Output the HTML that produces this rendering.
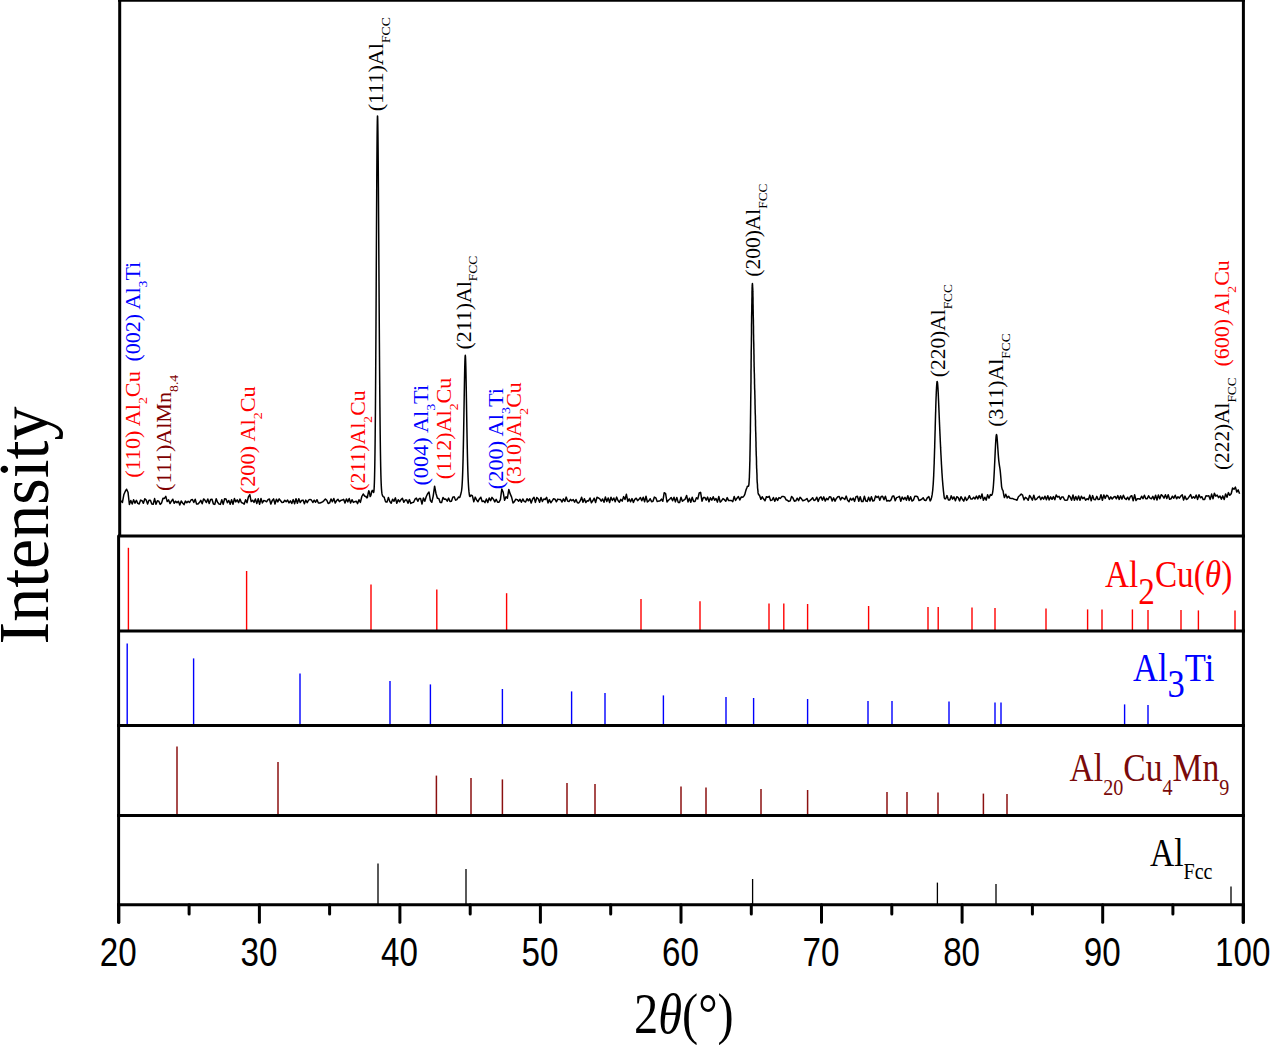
<!DOCTYPE html>
<html><head><meta charset="utf-8"><style>
html,body{margin:0;padding:0;background:#fff;}
svg{display:block;}
.tl{font-family:"Liberation Sans",sans-serif;font-size:41px;fill:#000;}
.lab{font-family:"Liberation Serif",serif;font-size:21.7px;}
.ser{font-family:"Liberation Serif",serif;}
</style></head><body>
<svg width="1270" height="1045" viewBox="0 0 1270 1045">
<rect width="1270" height="1045" fill="#fff"/>
<path d="M121.0,500.7 L122.4,502.5 L123.8,494.8 L125.2,491.5 L126.6,489.2 L128.0,492.2 L129.4,504.5 L130.8,500.5 L132.2,504.0 L133.6,499.7 L135.0,503.1 L136.4,500.3 L137.8,503.4 L139.2,504.0 L140.6,500.1 L142.0,500.7 L143.4,503.3 L144.8,498.7 L146.2,500.0 L147.6,504.0 L149.0,500.3 L150.4,500.3 L151.8,504.0 L153.2,504.3 L154.6,498.6 L156.0,504.2 L157.4,500.8 L158.8,501.2 L160.2,504.4 L161.6,502.9 L163.0,498.3 L164.4,498.4 L165.8,496.4 L167.2,501.6 L168.6,499.9 L170.0,503.5 L171.4,501.2 L172.8,499.2 L174.2,503.2 L175.6,501.2 L177.0,502.6 L178.4,501.3 L179.8,504.9 L181.2,501.0 L182.6,503.0 L184.0,504.6 L185.4,501.1 L186.8,502.8 L188.2,501.2 L189.6,502.5 L191.0,500.0 L192.4,499.5 L193.8,502.5 L195.2,499.3 L196.6,504.1 L198.0,504.1 L199.4,502.6 L200.8,500.3 L202.2,503.8 L203.6,498.9 L205.0,500.3 L206.4,502.5 L207.8,499.0 L209.2,503.6 L210.6,499.6 L212.0,499.3 L213.4,504.0 L214.8,504.4 L216.2,498.8 L217.6,502.3 L219.0,504.0 L220.4,504.4 L221.8,499.8 L223.2,504.4 L224.6,498.8 L226.0,499.1 L227.4,502.7 L228.8,500.5 L230.2,504.2 L231.6,499.7 L233.0,504.2 L234.4,498.6 L235.8,501.9 L237.2,499.9 L238.6,502.7 L240.0,499.1 L241.4,502.5 L242.8,503.1 L244.2,504.1 L245.6,499.8 L247.0,502.7 L248.4,496.9 L249.8,494.7 L251.2,501.6 L252.6,500.2 L254.0,502.4 L255.4,499.0 L256.8,503.6 L258.2,498.8 L259.6,504.2 L261.0,498.5 L262.4,502.9 L263.8,500.5 L265.2,500.9 L266.6,501.8 L268.0,499.7 L269.4,499.0 L270.8,504.1 L272.2,500.6 L273.6,498.9 L275.0,504.0 L276.4,499.2 L277.8,501.9 L279.2,498.9 L280.6,500.7 L282.0,502.5 L283.4,502.3 L284.8,500.3 L286.2,501.8 L287.6,500.1 L289.0,502.9 L290.4,500.8 L291.8,503.5 L293.2,499.6 L294.6,503.7 L296.0,498.7 L297.4,503.3 L298.8,498.7 L300.2,502.6 L301.6,500.5 L303.0,500.1 L304.4,503.7 L305.8,500.1 L307.2,502.7 L308.6,500.1 L310.0,499.4 L311.4,500.0 L312.8,502.5 L314.2,500.2 L315.6,502.2 L317.0,499.7 L318.4,503.0 L319.8,503.1 L321.2,502.5 L322.6,501.9 L324.0,500.6 L325.4,499.1 L326.8,500.3 L328.2,503.5 L329.6,502.9 L331.0,498.9 L332.4,501.8 L333.8,498.5 L335.2,503.0 L336.6,500.6 L338.0,499.3 L339.4,501.6 L340.8,500.4 L342.2,500.1 L343.6,499.3 L345.0,503.1 L346.4,498.9 L347.8,501.9 L349.2,498.5 L350.6,503.0 L352.0,499.7 L353.4,502.4 L354.8,501.7 L356.2,501.2 L357.6,503.6 L359.0,499.8 L360.4,502.4 L361.8,496.5 L363.2,494.0 L364.6,496.0 L365.3,496.4 L365.8,496.5 L366.0,496.4 L366.3,497.2 L366.7,497.8 L366.8,497.8 L367.2,497.7 L367.3,497.6 L367.4,497.5 L367.7,495.9 L367.8,495.4 L368.2,493.2 L368.3,492.8 L368.7,491.1 L368.8,490.8 L369.2,491.7 L369.3,492.0 L369.7,493.8 L369.8,494.3 L370.2,496.5 L370.3,496.4 L370.7,495.9 L370.8,495.6 L371.2,494.1 L371.3,493.5 L371.6,491.7 L371.7,491.5 L371.8,491.3 L372.2,490.5 L372.3,490.4 L372.7,490.5 L372.8,490.7 L373.0,491.2 L373.2,491.9 L373.3,492.2 L373.4,492.4 L373.5,492.5 L373.6,492.4 L373.7,492.2 L373.8,491.8 L373.9,491.1 L374.0,490.1 L374.1,488.8 L374.2,487.1 L374.3,484.9 L374.4,482.2 L374.5,478.9 L374.6,475.0 L374.7,470.3 L374.8,465.0 L374.9,458.7 L375.0,451.6 L375.1,443.5 L375.2,434.3 L375.3,424.1 L375.4,412.7 L375.5,400.2 L375.6,386.5 L375.7,371.7 L375.8,355.9 L375.9,339.2 L376.0,321.7 L376.1,303.5 L376.2,284.9 L376.3,266.0 L376.4,247.1 L376.5,228.5 L376.6,210.4 L376.7,193.1 L376.8,177.0 L376.9,162.2 L377.0,149.2 L377.1,138.0 L377.2,129.0 L377.3,122.3 L377.4,117.9 L377.5,115.9 L377.6,116.3 L377.7,118.9 L377.8,123.7 L377.9,130.4 L378.0,139.0 L378.1,149.2 L378.2,160.7 L378.3,173.5 L378.4,187.3 L378.5,201.9 L378.6,217.2 L378.7,233.0 L378.8,249.0 L378.9,265.2 L379.0,281.3 L379.1,297.3 L379.2,313.0 L379.3,328.2 L379.4,343.0 L379.5,357.1 L379.6,370.5 L379.7,383.2 L379.8,395.1 L379.9,406.2 L380.0,416.5 L380.1,426.0 L380.2,434.7 L380.3,442.6 L380.4,449.7 L380.5,456.1 L380.6,461.8 L380.7,466.9 L380.8,471.3 L380.9,475.2 L381.0,478.6 L381.1,481.4 L381.2,483.9 L381.3,485.9 L381.4,487.6 L381.5,489.1 L381.6,490.4 L381.7,491.5 L381.8,492.3 L381.9,493.1 L382.0,493.7 L382.1,494.2 L382.2,494.6 L382.3,494.9 L382.4,495.2 L382.5,495.5 L382.6,495.7 L382.7,495.9 L382.8,496.1 L383.2,496.5 L383.3,496.6 L383.7,496.9 L383.8,497.0 L384.2,497.2 L384.3,497.6 L384.7,498.9 L384.8,499.2 L385.2,500.5 L385.3,500.8 L385.6,501.8 L385.7,501.8 L385.8,501.8 L386.2,501.9 L386.3,501.9 L386.7,501.9 L386.8,501.9 L387.0,501.9 L387.2,501.3 L387.3,501.0 L387.7,499.7 L387.8,499.4 L388.2,498.1 L388.3,497.7 L388.4,497.4 L388.7,498.3 L388.8,498.6 L389.2,499.8 L389.7,501.2 L389.8,501.5 L390.2,502.0 L391.2,503.2 L392.6,499.3 L394.0,501.3 L395.4,497.9 L396.8,503.2 L398.2,499.8 L399.6,501.8 L401.0,499.6 L402.4,498.3 L403.8,502.3 L405.2,500.1 L406.6,499.9 L408.0,503.2 L409.4,499.6 L410.8,503.4 L412.2,502.6 L413.6,502.2 L415.0,499.2 L416.4,498.1 L417.8,501.3 L419.2,498.5 L420.6,498.6 L422.0,504.0 L423.4,497.9 L424.8,501.2 L426.2,496.7 L427.6,493.7 L429.0,492.1 L430.4,500.5 L431.8,502.3 L433.2,496.1 L434.6,486.2 L436.0,493.5 L437.4,498.2 L438.8,498.4 L440.2,502.5 L441.6,502.6 L443.0,497.5 L444.4,499.3 L445.8,499.1 L447.2,501.1 L448.6,498.1 L450.0,501.5 L451.4,501.3 L452.8,497.2 L453.3,497.0 L453.8,496.9 L454.2,496.8 L454.3,497.0 L454.8,498.3 L455.3,499.5 L455.6,500.2 L455.8,500.1 L456.3,499.9 L456.8,499.6 L457.0,499.4 L457.3,498.9 L457.8,498.1 L458.3,497.2 L458.4,497.0 L458.8,497.3 L459.3,497.4 L459.8,497.4 L460.3,495.8 L460.8,494.1 L461.2,492.3 L461.3,491.9 L461.4,491.4 L461.5,490.9 L461.6,490.2 L461.7,489.5 L461.8,488.6 L461.9,487.6 L462.0,486.4 L462.1,485.0 L462.2,483.4 L462.3,481.7 L462.4,479.7 L462.5,477.4 L462.6,474.9 L462.7,472.1 L462.8,469.0 L462.9,465.6 L463.0,461.9 L463.1,457.9 L463.2,453.5 L463.3,448.9 L463.4,444.0 L463.5,438.8 L463.6,433.4 L463.7,427.8 L463.8,421.9 L463.9,415.9 L464.0,409.8 L464.1,403.7 L464.2,397.6 L464.3,391.6 L464.4,385.7 L464.5,380.1 L464.6,374.9 L464.7,370.1 L464.8,365.8 L464.9,362.2 L465.0,359.2 L465.1,357.1 L465.2,355.8 L465.3,355.3 L465.4,355.8 L465.5,357.1 L465.6,359.3 L465.7,362.2 L465.8,365.9 L465.9,370.1 L466.0,375.0 L466.1,380.2 L466.2,385.8 L466.3,391.7 L466.4,397.7 L466.5,403.8 L466.6,410.0 L466.7,416.1 L466.8,422.1 L466.9,427.9 L467.0,433.6 L467.1,439.0 L467.2,444.2 L467.3,449.1 L467.4,453.8 L467.5,458.1 L467.6,462.1 L467.7,465.8 L467.8,469.2 L467.9,472.3 L468.0,475.1 L468.1,477.7 L468.2,480.0 L468.3,482.1 L468.4,484.0 L468.5,485.7 L468.6,487.2 L468.7,488.6 L468.8,489.8 L468.9,490.9 L469.0,491.9 L469.1,492.7 L469.2,493.5 L469.3,494.3 L469.6,496.1 L469.8,496.4 L470.3,496.4 L470.8,495.6 L471.0,495.1 L471.3,495.3 L471.8,495.5 L472.3,495.7 L472.4,495.8 L472.8,497.5 L473.3,499.6 L473.8,501.8 L474.3,500.1 L474.8,498.5 L475.2,497.1 L475.3,497.4 L475.8,498.4 L476.3,499.4 L476.6,500.0 L476.8,500.2 L478.0,501.7 L479.4,498.9 L480.8,497.2 L482.2,501.5 L483.6,500.9 L485.0,502.6 L486.4,498.9 L487.8,502.5 L489.2,497.9 L490.6,500.7 L492.0,497.4 L493.4,499.2 L494.8,501.9 L496.2,499.3 L497.6,502.3 L499.0,502.2 L500.4,499.6 L501.8,489.0 L503.2,492.3 L504.6,500.3 L506.0,496.8 L507.4,498.2 L508.8,489.5 L510.2,493.9 L511.6,497.1 L513.0,502.9 L514.4,501.6 L515.8,499.2 L517.2,499.6 L518.6,501.2 L520.0,499.3 L521.4,502.2 L522.8,499.0 L524.2,501.4 L525.6,502.0 L527.0,498.8 L528.4,500.8 L529.8,498.8 L531.2,503.0 L532.6,498.9 L534.0,497.3 L535.4,502.4 L536.8,497.5 L538.2,498.7 L539.6,502.3 L541.0,497.5 L542.4,501.5 L543.8,499.0 L545.2,499.5 L546.6,497.3 L548.0,502.9 L549.4,499.6 L550.8,502.8 L552.2,500.9 L553.6,498.7 L555.0,499.2 L556.4,501.8 L557.8,499.1 L559.2,499.6 L560.6,499.6 L562.0,502.0 L563.4,498.9 L564.8,501.5 L566.2,497.1 L567.6,501.0 L569.0,501.6 L570.4,499.4 L571.8,500.7 L573.2,499.5 L574.6,502.2 L576.0,499.5 L577.4,502.8 L578.8,502.9 L580.2,500.9 L581.6,497.2 L583.0,502.3 L584.4,498.7 L585.8,502.6 L587.2,500.7 L588.6,500.9 L590.0,498.0 L591.4,502.7 L592.8,500.8 L594.2,498.2 L595.6,502.5 L597.0,497.3 L598.4,497.9 L599.8,498.8 L601.2,501.2 L602.6,499.0 L604.0,502.3 L605.4,497.0 L606.8,501.6 L608.2,497.9 L609.6,502.5 L611.0,497.3 L612.4,500.5 L613.8,498.0 L615.2,501.8 L616.6,497.1 L618.0,500.5 L619.4,502.2 L620.8,499.4 L622.2,501.1 L623.6,496.6 L625.0,499.5 L626.4,494.3 L627.8,501.4 L629.2,498.9 L630.6,501.8 L632.0,498.6 L633.4,502.4 L634.8,499.3 L636.2,498.2 L637.6,500.7 L639.0,499.2 L640.4,497.6 L641.8,500.8 L643.2,497.3 L644.6,501.7 L646.0,496.2 L647.4,502.0 L648.8,500.9 L650.2,498.7 L651.6,501.8 L653.0,501.2 L654.4,497.1 L655.8,497.8 L657.2,501.6 L658.6,501.1 L660.0,500.9 L661.4,499.1 L662.8,501.3 L664.2,492.7 L665.6,493.7 L667.0,502.0 L668.4,500.3 L669.8,499.1 L671.2,497.6 L672.6,500.7 L674.0,497.3 L675.4,501.9 L676.8,497.4 L678.2,502.4 L679.6,502.6 L681.0,497.2 L682.4,501.3 L683.8,500.1 L685.2,499.1 L686.6,495.4 L688.0,501.9 L689.4,498.2 L690.8,502.2 L692.2,497.3 L693.6,501.5 L695.0,501.6 L696.4,497.7 L697.8,498.9 L699.2,493.0 L700.6,492.3 L702.0,501.2 L703.4,497.6 L704.8,497.4 L706.2,500.2 L707.6,497.1 L709.0,501.7 L710.4,497.8 L711.8,500.2 L713.2,496.8 L714.6,500.3 L716.0,498.5 L717.4,502.1 L718.8,496.5 L720.2,502.1 L721.6,500.7 L723.0,498.6 L724.4,499.7 L725.8,501.3 L727.2,497.6 L728.6,500.6 L730.0,500.6 L731.4,500.5 L732.8,501.6 L734.2,496.4 L735.6,500.4 L737.0,498.2 L738.4,496.5 L739.8,500.0 L740.3,499.0 L740.8,497.9 L741.2,497.0 L741.3,497.0 L741.8,497.1 L742.3,497.2 L742.6,497.2 L742.8,497.1 L742.9,497.1 L743.3,496.7 L743.4,496.6 L743.8,496.1 L743.9,496.0 L744.0,495.7 L744.3,495.4 L744.4,495.3 L744.8,494.3 L744.9,494.1 L745.3,492.5 L745.4,492.3 L745.4,492.1 L745.8,490.7 L745.9,490.5 L746.3,489.0 L746.4,488.9 L746.8,488.0 L746.9,487.7 L747.3,486.5 L747.4,486.4 L747.8,486.2 L747.9,486.2 L748.2,486.1 L748.3,486.2 L748.4,486.2 L748.4,486.2 L748.5,486.1 L748.6,485.9 L748.7,485.5 L748.8,484.9 L748.9,484.5 L748.9,484.1 L749.0,483.1 L749.1,481.8 L749.2,480.3 L749.3,478.4 L749.4,477.3 L749.4,476.1 L749.5,473.5 L749.6,470.5 L749.7,466.9 L749.8,462.9 L749.9,460.7 L749.9,458.4 L750.0,453.4 L750.1,447.9 L750.2,441.8 L750.3,435.3 L750.4,431.8 L750.4,428.2 L750.5,420.6 L750.6,412.6 L750.7,404.1 L750.8,395.2 L750.9,390.7 L750.9,386.1 L751.0,381.4 L751.0,376.6 L751.0,371.9 L751.1,367.1 L751.1,362.3 L751.2,357.5 L751.2,352.8 L751.3,348.0 L751.4,343.3 L751.4,338.7 L751.5,334.1 L751.5,329.7 L751.5,325.3 L751.6,321.1 L751.6,317.0 L751.7,313.1 L751.8,309.4 L751.8,305.9 L751.9,302.6 L751.9,299.5 L752.0,296.6 L752.0,294.0 L752.0,291.7 L752.1,289.7 L752.1,287.9 L752.2,286.5 L752.2,285.3 L752.3,284.5 L752.4,283.9 L752.4,283.6 L752.5,283.7 L752.5,284.0 L752.5,284.6 L752.6,285.5 L752.6,286.6 L752.7,287.9 L752.8,289.5 L752.8,291.4 L752.9,293.4 L752.9,295.5 L753.0,297.9 L753.0,300.4 L753.0,303.0 L753.1,305.7 L753.1,308.5 L753.2,311.4 L753.2,314.4 L753.3,317.4 L753.4,320.4 L753.4,323.5 L753.5,326.5 L753.5,329.6 L753.5,332.6 L753.6,335.6 L753.6,338.6 L753.7,341.6 L753.8,344.5 L753.8,347.3 L753.9,350.1 L753.9,352.9 L754.0,355.6 L754.0,358.2 L754.0,360.8 L754.1,363.3 L754.1,365.7 L754.2,368.1 L754.2,370.4 L754.3,372.7 L754.4,374.9 L754.4,377.1 L754.5,379.2 L754.5,381.3 L754.5,383.4 L754.6,385.5 L754.6,387.6 L754.7,389.6 L754.8,391.6 L754.8,393.7 L754.9,395.7 L754.9,397.7 L755.0,399.8 L755.0,401.9 L755.0,403.9 L755.1,406.0 L755.1,408.1 L755.2,410.2 L755.2,412.4 L755.3,414.5 L755.4,416.6 L755.4,418.8 L755.5,420.9 L755.5,423.1 L755.5,425.2 L755.6,427.4 L755.6,429.6 L755.7,431.7 L755.8,433.8 L755.8,436.0 L755.9,438.1 L755.9,440.2 L756.0,442.2 L756.0,444.3 L756.0,446.3 L756.1,448.3 L756.1,450.2 L756.2,452.1 L756.2,454.0 L756.3,455.8 L756.4,457.6 L756.5,461.1 L756.5,464.4 L756.6,465.9 L756.6,467.5 L756.8,470.4 L756.8,471.8 L756.9,473.1 L757.0,475.6 L757.0,478.0 L757.1,480.1 L757.2,482.1 L757.3,483.0 L757.4,483.9 L757.5,485.5 L757.5,486.9 L757.6,488.3 L757.8,489.4 L757.8,490.0 L757.9,490.5 L758.0,491.5 L758.0,491.9 L758.0,492.3 L758.1,492.9 L758.2,493.4 L758.3,493.6 L758.4,493.8 L758.5,494.1 L758.5,494.4 L758.6,494.6 L758.8,494.8 L758.8,494.8 L758.9,494.9 L759.3,495.0 L759.4,495.0 L759.4,495.0 L759.8,496.2 L759.9,496.3 L760.3,497.7 L760.4,497.9 L760.8,499.3 L760.9,499.3 L761.3,498.5 L761.4,498.4 L761.8,497.6 L761.9,497.5 L762.2,496.8 L762.3,496.9 L762.4,497.0 L762.8,497.8 L762.9,497.8 L763.3,498.6 L763.4,498.6 L763.6,499.0 L763.8,499.3 L763.9,499.3 L764.4,500.0 L764.9,500.6 L765.0,500.8 L765.4,499.7 L765.9,498.3 L766.4,496.8 L766.4,496.7 L767.8,497.3 L769.2,496.3 L770.6,500.5 L772.0,500.1 L773.4,497.5 L774.8,501.3 L776.2,497.9 L777.6,500.4 L779.0,497.6 L780.4,498.4 L781.8,496.6 L783.2,496.5 L784.6,496.9 L786.0,499.7 L787.4,500.3 L788.8,501.4 L790.2,500.9 L791.6,496.4 L793.0,498.1 L794.4,501.2 L795.8,500.8 L797.2,498.2 L798.6,500.6 L800.0,497.3 L801.4,498.6 L802.8,500.8 L804.2,500.3 L805.6,499.6 L807.0,498.5 L808.4,501.7 L809.8,500.6 L811.2,499.4 L812.6,497.7 L814.0,500.5 L815.4,499.9 L816.8,497.2 L818.2,501.4 L819.6,497.8 L821.0,496.9 L822.4,500.1 L823.8,496.9 L825.2,501.1 L826.6,498.4 L828.0,499.8 L829.4,496.8 L830.8,497.0 L832.2,501.0 L833.6,497.9 L835.0,501.2 L836.4,498.4 L837.8,496.8 L839.2,496.5 L840.6,500.0 L842.0,497.4 L843.4,498.3 L844.8,499.5 L846.2,496.1 L847.6,500.2 L849.0,501.7 L850.4,498.2 L851.8,500.1 L853.2,498.1 L854.6,501.4 L856.0,496.6 L857.4,496.2 L858.8,501.3 L860.2,496.8 L861.6,501.5 L863.0,501.5 L864.4,496.3 L865.8,501.0 L867.2,501.4 L868.6,497.2 L870.0,501.1 L871.4,496.7 L872.8,501.1 L874.2,500.5 L875.6,495.9 L877.0,497.5 L878.4,496.2 L879.8,500.2 L881.2,496.6 L882.6,496.3 L884.0,499.7 L885.4,496.2 L886.8,501.1 L888.2,500.5 L889.6,501.1 L891.0,499.9 L892.4,496.2 L893.8,495.9 L895.2,500.7 L896.6,497.6 L898.0,497.1 L899.4,496.3 L900.8,501.2 L902.2,497.0 L903.6,499.5 L905.0,497.3 L906.4,500.3 L907.8,495.7 L909.2,500.5 L910.6,496.7 L912.0,501.0 L913.4,500.2 L914.8,496.2 L916.2,496.2 L917.6,496.7 L919.0,500.5 L920.4,500.0 L921.8,499.1 L923.2,497.8 L924.6,500.3 L924.9,500.3 L925.4,500.4 L925.9,500.5 L926.0,500.5 L926.4,499.7 L926.9,498.7 L927.4,497.7 L927.9,497.3 L928.2,497.1 L928.4,496.9 L928.7,496.7 L928.8,496.6 L928.9,496.9 L929.2,497.8 L929.4,498.5 L929.7,499.3 L929.9,500.1 L930.2,500.9 L930.2,501.0 L930.4,500.6 L930.7,500.1 L930.9,499.6 L931.2,498.9 L931.4,498.1 L931.6,497.4 L931.7,497.1 L931.9,495.9 L932.2,494.4 L932.4,492.7 L932.7,490.5 L932.9,487.9 L933.0,486.7 L933.1,485.4 L933.2,484.6 L933.2,484.1 L933.3,482.6 L933.4,480.9 L933.5,479.1 L933.6,477.1 L933.7,475.9 L933.7,475.0 L933.8,472.7 L933.9,470.3 L934.0,467.7 L934.1,465.0 L934.2,463.3 L934.2,462.1 L934.3,459.1 L934.4,456.0 L934.5,452.7 L934.6,449.3 L934.7,447.2 L934.7,445.8 L934.8,442.3 L934.9,438.7 L935.0,435.0 L935.1,431.3 L935.2,429.1 L935.2,427.6 L935.3,423.9 L935.4,420.2 L935.5,416.6 L935.6,413.0 L935.7,411.0 L935.7,409.6 L935.8,406.3 L935.9,403.1 L936.0,400.0 L936.1,397.2 L936.2,395.6 L936.2,394.5 L936.3,393.0 L936.3,392.1 L936.4,390.7 L936.4,389.9 L936.5,388.7 L936.5,387.9 L936.6,386.9 L936.6,386.2 L936.7,385.3 L936.7,384.8 L936.8,384.0 L936.8,383.6 L936.9,383.0 L936.9,382.7 L937.0,382.3 L937.0,382.1 L937.1,381.8 L937.1,381.7 L937.2,381.6 L937.2,381.6 L937.3,381.7 L937.3,381.8 L937.4,382.0 L937.4,382.3 L937.5,382.6 L937.5,382.9 L937.6,383.5 L937.6,383.9 L937.7,384.5 L937.7,385.0 L937.8,385.8 L937.8,386.3 L937.9,387.2 L937.9,387.9 L938.0,388.8 L938.0,389.5 L938.1,390.6 L938.1,391.4 L938.2,392.5 L938.2,393.3 L938.3,394.6 L938.3,395.4 L938.4,396.7 L938.4,397.6 L938.5,399.0 L938.5,399.9 L938.6,401.3 L938.6,402.2 L938.7,403.6 L938.7,404.6 L938.8,406.0 L938.8,407.0 L938.9,408.4 L938.9,409.4 L939.0,410.8 L939.0,411.8 L939.1,413.3 L939.1,414.2 L939.2,415.7 L939.2,416.6 L939.3,418.1 L939.3,419.1 L939.4,420.5 L939.4,421.4 L939.5,422.9 L939.5,423.8 L939.6,425.2 L939.6,426.1 L939.7,427.5 L939.7,428.4 L939.8,429.8 L939.8,430.7 L939.9,432.0 L939.9,432.9 L940.0,434.3 L940.0,435.1 L940.1,436.5 L940.1,437.3 L940.2,438.6 L940.2,439.5 L940.3,440.8 L940.3,441.6 L940.4,442.9 L940.4,443.8 L940.5,445.0 L940.5,445.9 L940.6,447.1 L940.6,447.9 L940.7,449.2 L940.7,450.0 L940.8,451.2 L940.8,452.0 L940.9,453.2 L940.9,454.0 L941.0,455.2 L941.1,457.2 L941.2,459.1 L941.3,461.0 L941.4,462.9 L941.4,463.7 L941.5,464.8 L941.6,466.5 L941.7,468.2 L941.8,469.9 L941.9,471.6 L941.9,472.2 L942.0,473.2 L942.1,474.7 L942.2,476.2 L942.3,477.7 L942.4,479.0 L942.4,479.6 L942.5,480.4 L942.6,481.6 L942.7,482.8 L942.8,483.9 L942.8,484.4 L942.9,485.1 L942.9,485.6 L943.0,486.2 L943.1,487.4 L943.2,488.4 L943.3,489.4 L943.4,490.4 L943.4,490.8 L943.5,491.3 L943.6,492.2 L943.7,493.1 L943.8,493.9 L943.9,494.7 L943.9,495.0 L944.0,495.5 L944.1,496.2 L944.2,496.9 L944.2,497.2 L944.4,498.0 L944.7,498.6 L944.9,498.8 L945.2,498.9 L945.4,498.8 L945.6,498.7 L945.7,498.6 L945.9,498.1 L946.2,497.6 L946.4,497.0 L946.7,496.4 L946.9,495.9 L947.0,495.6 L947.2,496.1 L947.4,496.8 L947.7,497.6 L947.9,498.4 L948.2,499.2 L948.4,499.9 L948.7,499.9 L949.2,499.9 L949.7,499.9 L949.8,499.9 L950.2,498.9 L950.7,497.4 L951.2,495.9 L951.2,495.8 L951.7,496.9 L952.6,499.1 L954.0,496.9 L955.4,500.8 L956.8,496.7 L958.2,497.6 L959.6,500.9 L961.0,496.7 L962.4,499.2 L963.8,501.1 L965.2,497.1 L966.6,500.4 L968.0,498.6 L969.4,495.7 L970.8,499.0 L972.2,499.1 L973.6,497.3 L975.0,499.0 L976.4,496.1 L977.8,498.9 L979.2,495.6 L980.6,498.5 L982.0,493.9 L983.4,500.3 L984.4,498.1 L984.8,497.2 L984.9,497.4 L985.4,498.5 L985.9,499.5 L986.2,500.1 L986.4,499.3 L986.9,497.4 L987.4,495.6 L987.6,494.8 L987.9,495.5 L988.4,496.8 L988.9,498.0 L989.0,498.2 L989.4,497.2 L989.9,495.9 L990.4,494.6 L990.9,495.0 L991.4,495.3 L991.8,495.0 L991.9,494.9 L992.4,493.4 L992.5,493.0 L992.6,492.5 L992.7,491.9 L992.8,491.3 L992.9,490.5 L993.0,489.8 L993.1,488.9 L993.2,488.0 L993.3,486.8 L993.4,485.6 L993.5,484.3 L993.6,482.9 L993.7,481.4 L993.8,479.9 L993.9,478.3 L994.0,476.6 L994.1,474.8 L994.2,472.9 L994.3,471.0 L994.4,469.0 L994.5,466.9 L994.6,464.8 L994.7,462.7 L994.8,460.6 L994.9,458.4 L995.0,456.2 L995.1,454.0 L995.2,451.9 L995.3,449.8 L995.4,447.7 L995.5,445.7 L995.6,443.8 L995.7,442.1 L995.8,440.4 L995.9,439.0 L996.0,437.7 L996.1,436.6 L996.2,435.8 L996.3,435.1 L996.4,434.7 L996.5,434.6 L996.6,434.7 L996.7,435.0 L996.8,435.5 L996.9,436.2 L997.0,437.1 L997.1,438.1 L997.2,439.3 L997.3,440.5 L997.4,441.9 L997.5,443.4 L997.6,444.8 L997.7,446.4 L997.8,447.9 L997.9,449.4 L998.0,450.8 L998.1,452.3 L998.2,453.7 L998.3,455.0 L998.4,456.3 L998.5,457.5 L998.6,458.6 L998.7,459.7 L998.8,460.7 L998.9,461.6 L999.0,462.4 L999.1,463.2 L999.2,463.9 L999.3,464.6 L999.4,465.3 L999.5,465.9 L999.6,466.6 L999.7,467.2 L999.8,467.9 L999.9,468.5 L1000.0,469.2 L1000.1,469.9 L1000.2,470.6 L1000.3,471.6 L1000.4,472.6 L1000.9,478.2 L1001.4,484.2 L1001.6,486.6 L1001.9,488.1 L1002.4,489.7 L1002.9,490.4 L1003.0,490.4 L1003.4,492.9 L1003.9,495.5 L1004.4,497.6 L1004.9,496.5 L1005.4,495.3 L1005.8,494.2 L1005.9,494.5 L1006.4,495.8 L1006.9,497.1 L1007.2,497.9 L1007.4,497.7 L1007.9,497.1 L1008.6,496.3 L1010.0,498.3 L1011.4,498.4 L1012.8,498.6 L1014.2,499.2 L1015.6,499.6 L1017.0,500.2 L1018.4,496.7 L1019.8,495.5 L1021.2,494.1 L1022.6,495.2 L1024.0,499.9 L1025.4,497.4 L1026.8,498.4 L1028.2,500.3 L1029.6,495.5 L1031.0,497.5 L1032.4,500.1 L1033.8,495.2 L1035.2,499.7 L1036.6,499.1 L1038.0,497.3 L1039.4,496.3 L1040.8,499.7 L1042.2,497.2 L1043.6,499.1 L1045.0,496.2 L1046.4,499.8 L1047.8,495.8 L1049.2,499.9 L1050.6,496.9 L1052.0,499.3 L1053.4,496.6 L1054.8,499.7 L1056.2,495.0 L1057.6,497.1 L1059.0,496.4 L1060.4,499.4 L1061.8,496.9 L1063.2,497.1 L1064.6,500.0 L1066.0,500.3 L1067.4,500.1 L1068.8,495.5 L1070.2,497.1 L1071.6,500.2 L1073.0,495.0 L1074.4,500.2 L1075.8,496.5 L1077.2,500.0 L1078.6,496.0 L1080.0,500.2 L1081.4,496.3 L1082.8,498.6 L1084.2,497.2 L1085.6,500.3 L1087.0,498.7 L1088.4,499.6 L1089.8,495.1 L1091.2,500.7 L1092.6,495.6 L1094.0,499.6 L1095.4,499.8 L1096.8,496.4 L1098.2,499.6 L1099.6,499.3 L1101.0,494.8 L1102.4,500.2 L1103.8,494.9 L1105.2,498.4 L1106.6,495.2 L1108.0,496.2 L1109.4,499.4 L1110.8,496.8 L1112.2,499.0 L1113.6,497.2 L1115.0,496.5 L1116.4,498.8 L1117.8,495.6 L1119.2,499.4 L1120.6,495.9 L1122.0,499.1 L1123.4,495.3 L1124.8,498.4 L1126.2,499.5 L1127.6,497.2 L1129.0,499.8 L1130.4,496.5 L1131.8,495.7 L1133.2,500.8 L1134.6,494.8 L1136.0,500.5 L1137.4,498.8 L1138.8,498.7 L1140.2,499.2 L1141.6,496.2 L1143.0,498.7 L1144.4,495.2 L1145.8,498.8 L1147.2,498.7 L1148.6,495.8 L1150.0,498.1 L1151.4,498.8 L1152.8,496.4 L1154.2,499.6 L1155.6,495.3 L1157.0,500.0 L1158.4,495.0 L1159.8,498.8 L1161.2,494.7 L1162.6,495.8 L1164.0,498.2 L1165.4,494.8 L1166.8,498.5 L1168.2,494.8 L1169.6,499.2 L1171.0,498.8 L1172.4,496.2 L1173.8,498.2 L1175.2,495.3 L1176.6,498.7 L1178.0,496.8 L1179.4,498.1 L1180.8,496.0 L1182.2,494.8 L1183.6,500.0 L1185.0,496.1 L1186.4,499.5 L1187.8,498.6 L1189.2,496.6 L1190.6,494.6 L1192.0,498.2 L1193.4,496.8 L1194.8,498.1 L1196.2,495.1 L1197.6,499.4 L1199.0,494.8 L1200.4,497.8 L1201.8,496.7 L1203.2,499.6 L1204.6,499.5 L1206.0,495.8 L1207.4,496.1 L1208.8,495.7 L1210.2,499.4 L1211.6,494.1 L1213.0,498.8 L1214.4,493.3 L1215.8,496.1 L1217.2,495.1 L1218.6,497.6 L1220.0,496.1 L1221.4,499.1 L1222.8,495.9 L1224.2,499.5 L1225.6,493.9 L1227.0,497.2 L1228.4,492.6 L1229.8,495.3 L1231.2,493.8 L1232.6,488.0 L1234.0,489.3 L1235.4,487.1 L1236.8,492.0 L1238.2,489.9 L1239.6,493.7" fill="none" stroke="#000" stroke-width="1.5" stroke-linejoin="round"/>
<line x1="128.4" y1="631" x2="128.4" y2="547.8" stroke="#ff0000" stroke-width="1.4"/><line x1="246.6" y1="631" x2="246.6" y2="571" stroke="#ff0000" stroke-width="1.4"/><line x1="371" y1="631" x2="371" y2="584.6" stroke="#ff0000" stroke-width="1.4"/><line x1="436.8" y1="631" x2="436.8" y2="589.6" stroke="#ff0000" stroke-width="1.4"/><line x1="506.6" y1="631" x2="506.6" y2="593.2" stroke="#ff0000" stroke-width="1.4"/><line x1="641" y1="631" x2="641" y2="599" stroke="#ff0000" stroke-width="1.4"/><line x1="700" y1="631" x2="700" y2="601.2" stroke="#ff0000" stroke-width="1.4"/><line x1="769" y1="631" x2="769" y2="603.6" stroke="#ff0000" stroke-width="1.4"/><line x1="783.8" y1="631" x2="783.8" y2="603.4" stroke="#ff0000" stroke-width="1.4"/><line x1="807.6" y1="631" x2="807.6" y2="604" stroke="#ff0000" stroke-width="1.4"/><line x1="868.6" y1="631" x2="868.6" y2="606" stroke="#ff0000" stroke-width="1.4"/><line x1="928" y1="631" x2="928" y2="607" stroke="#ff0000" stroke-width="1.4"/><line x1="938.2" y1="631" x2="938.2" y2="607" stroke="#ff0000" stroke-width="1.4"/><line x1="972" y1="631" x2="972" y2="607.4" stroke="#ff0000" stroke-width="1.4"/><line x1="995" y1="631" x2="995" y2="608" stroke="#ff0000" stroke-width="1.4"/><line x1="1046" y1="631" x2="1046" y2="608.4" stroke="#ff0000" stroke-width="1.4"/><line x1="1087.6" y1="631" x2="1087.6" y2="609.4" stroke="#ff0000" stroke-width="1.4"/><line x1="1102" y1="631" x2="1102" y2="609.4" stroke="#ff0000" stroke-width="1.4"/><line x1="1132.4" y1="631" x2="1132.4" y2="609.4" stroke="#ff0000" stroke-width="1.4"/><line x1="1148" y1="631" x2="1148" y2="610" stroke="#ff0000" stroke-width="1.4"/><line x1="1181" y1="631" x2="1181" y2="610" stroke="#ff0000" stroke-width="1.4"/><line x1="1198.4" y1="631" x2="1198.4" y2="610.4" stroke="#ff0000" stroke-width="1.4"/><line x1="1235" y1="631" x2="1235" y2="610.4" stroke="#ff0000" stroke-width="1.4"/><line x1="127.2" y1="725.6" x2="127.2" y2="643.4" stroke="#0000ff" stroke-width="1.4"/><line x1="193.6" y1="725.6" x2="193.6" y2="658.4" stroke="#0000ff" stroke-width="1.4"/><line x1="300" y1="725.6" x2="300" y2="673.6" stroke="#0000ff" stroke-width="1.4"/><line x1="390" y1="725.6" x2="390" y2="681" stroke="#0000ff" stroke-width="1.4"/><line x1="430.4" y1="725.6" x2="430.4" y2="684.4" stroke="#0000ff" stroke-width="1.4"/><line x1="502.4" y1="725.6" x2="502.4" y2="689" stroke="#0000ff" stroke-width="1.4"/><line x1="571.6" y1="725.6" x2="571.6" y2="691.4" stroke="#0000ff" stroke-width="1.4"/><line x1="605" y1="725.6" x2="605" y2="693" stroke="#0000ff" stroke-width="1.4"/><line x1="663.4" y1="725.6" x2="663.4" y2="695.4" stroke="#0000ff" stroke-width="1.4"/><line x1="726" y1="725.6" x2="726" y2="697" stroke="#0000ff" stroke-width="1.4"/><line x1="753.6" y1="725.6" x2="753.6" y2="698" stroke="#0000ff" stroke-width="1.4"/><line x1="807.6" y1="725.6" x2="807.6" y2="699" stroke="#0000ff" stroke-width="1.4"/><line x1="868" y1="725.6" x2="868" y2="701" stroke="#0000ff" stroke-width="1.4"/><line x1="892" y1="725.6" x2="892" y2="701" stroke="#0000ff" stroke-width="1.4"/><line x1="949" y1="725.6" x2="949" y2="701.6" stroke="#0000ff" stroke-width="1.4"/><line x1="995" y1="725.6" x2="995" y2="702.6" stroke="#0000ff" stroke-width="1.4"/><line x1="1001" y1="725.6" x2="1001" y2="702.6" stroke="#0000ff" stroke-width="1.4"/><line x1="1124.6" y1="725.6" x2="1124.6" y2="704.4" stroke="#0000ff" stroke-width="1.4"/><line x1="1148" y1="725.6" x2="1148" y2="705" stroke="#0000ff" stroke-width="1.4"/><line x1="177" y1="815.5" x2="177" y2="746.6" stroke="#8b1010" stroke-width="1.5"/><line x1="278" y1="815.5" x2="278" y2="762" stroke="#8b1010" stroke-width="1.5"/><line x1="436.4" y1="815.5" x2="436.4" y2="775.6" stroke="#8b1010" stroke-width="1.5"/><line x1="471" y1="815.5" x2="471" y2="778" stroke="#8b1010" stroke-width="1.5"/><line x1="502.4" y1="815.5" x2="502.4" y2="779.4" stroke="#8b1010" stroke-width="1.5"/><line x1="567" y1="815.5" x2="567" y2="783" stroke="#8b1010" stroke-width="1.5"/><line x1="595" y1="815.5" x2="595" y2="784" stroke="#8b1010" stroke-width="1.5"/><line x1="681" y1="815.5" x2="681" y2="786.6" stroke="#8b1010" stroke-width="1.5"/><line x1="706" y1="815.5" x2="706" y2="787.6" stroke="#8b1010" stroke-width="1.5"/><line x1="761" y1="815.5" x2="761" y2="789" stroke="#8b1010" stroke-width="1.5"/><line x1="807.6" y1="815.5" x2="807.6" y2="790" stroke="#8b1010" stroke-width="1.5"/><line x1="887" y1="815.5" x2="887" y2="792" stroke="#8b1010" stroke-width="1.5"/><line x1="907" y1="815.5" x2="907" y2="792" stroke="#8b1010" stroke-width="1.5"/><line x1="938" y1="815.5" x2="938" y2="792.4" stroke="#8b1010" stroke-width="1.5"/><line x1="983.4" y1="815.5" x2="983.4" y2="793.6" stroke="#8b1010" stroke-width="1.5"/><line x1="1007" y1="815.5" x2="1007" y2="794" stroke="#8b1010" stroke-width="1.5"/><line x1="378" y1="904.8" x2="378" y2="863.4" stroke="#000" stroke-width="1.3"/><line x1="466" y1="904.8" x2="466" y2="869" stroke="#000" stroke-width="1.3"/><line x1="752.6" y1="904.8" x2="752.6" y2="879" stroke="#000" stroke-width="1.3"/><line x1="937.4" y1="904.8" x2="937.4" y2="882.6" stroke="#000" stroke-width="1.3"/><line x1="996" y1="904.8" x2="996" y2="884" stroke="#000" stroke-width="1.3"/><line x1="1231" y1="904.8" x2="1231" y2="886.6" stroke="#000" stroke-width="1.3"/>
<g stroke="#000" stroke-width="3" fill="none">
<line x1="119.7" y1="0" x2="119.7" y2="536"/>
<line x1="118.6" y1="536" x2="118.6" y2="922.2" stroke-linecap="round"/>
<line x1="1243.4" y1="0" x2="1243.4" y2="922.2" stroke-linecap="round"/>
<line x1="118" y1="0.3" x2="1245" y2="0.3"/>
<line x1="118" y1="536" x2="1245" y2="536"/>
<line x1="118" y1="631" x2="1245" y2="631"/>
<line x1="117" y1="725.6" x2="1245" y2="725.6"/>
<line x1="117" y1="815.5" x2="1245" y2="815.5"/>
<line x1="117" y1="904.8" x2="1245" y2="904.8"/>
</g>
<line x1="118.8" y1="904.8" x2="118.8" y2="922.2" stroke="#000" stroke-width="3" stroke-linecap="round"/><line x1="189.1" y1="904.8" x2="189.1" y2="914.0" stroke="#000" stroke-width="3" stroke-linecap="round"/><line x1="259.4" y1="904.8" x2="259.4" y2="922.2" stroke="#000" stroke-width="3" stroke-linecap="round"/><line x1="329.6" y1="904.8" x2="329.6" y2="914.0" stroke="#000" stroke-width="3" stroke-linecap="round"/><line x1="399.9" y1="904.8" x2="399.9" y2="922.2" stroke="#000" stroke-width="3" stroke-linecap="round"/><line x1="470.2" y1="904.8" x2="470.2" y2="914.0" stroke="#000" stroke-width="3" stroke-linecap="round"/><line x1="540.4" y1="904.8" x2="540.4" y2="922.2" stroke="#000" stroke-width="3" stroke-linecap="round"/><line x1="610.7" y1="904.8" x2="610.7" y2="914.0" stroke="#000" stroke-width="3" stroke-linecap="round"/><line x1="681.0" y1="904.8" x2="681.0" y2="922.2" stroke="#000" stroke-width="3" stroke-linecap="round"/><line x1="751.3" y1="904.8" x2="751.3" y2="914.0" stroke="#000" stroke-width="3" stroke-linecap="round"/><line x1="821.5" y1="904.8" x2="821.5" y2="922.2" stroke="#000" stroke-width="3" stroke-linecap="round"/><line x1="891.8" y1="904.8" x2="891.8" y2="914.0" stroke="#000" stroke-width="3" stroke-linecap="round"/><line x1="962.1" y1="904.8" x2="962.1" y2="922.2" stroke="#000" stroke-width="3" stroke-linecap="round"/><line x1="1032.4" y1="904.8" x2="1032.4" y2="914.0" stroke="#000" stroke-width="3" stroke-linecap="round"/><line x1="1102.7" y1="904.8" x2="1102.7" y2="922.2" stroke="#000" stroke-width="3" stroke-linecap="round"/><line x1="1172.9" y1="904.8" x2="1172.9" y2="914.0" stroke="#000" stroke-width="3" stroke-linecap="round"/><line x1="1243.2" y1="904.8" x2="1243.2" y2="922.2" stroke="#000" stroke-width="3" stroke-linecap="round"/>
<text x="0" y="0" transform="translate(118.3,965.5) scale(0.809,1)" text-anchor="middle" class="tl">20</text><text x="0" y="0" transform="translate(258.9,965.5) scale(0.809,1)" text-anchor="middle" class="tl">30</text><text x="0" y="0" transform="translate(399.4,965.5) scale(0.809,1)" text-anchor="middle" class="tl">40</text><text x="0" y="0" transform="translate(539.9,965.5) scale(0.809,1)" text-anchor="middle" class="tl">50</text><text x="0" y="0" transform="translate(680.5,965.5) scale(0.809,1)" text-anchor="middle" class="tl">60</text><text x="0" y="0" transform="translate(821.0,965.5) scale(0.809,1)" text-anchor="middle" class="tl">70</text><text x="0" y="0" transform="translate(961.6,965.5) scale(0.809,1)" text-anchor="middle" class="tl">80</text><text x="0" y="0" transform="translate(1102.2,965.5) scale(0.809,1)" text-anchor="middle" class="tl">90</text><text x="0" y="0" transform="translate(1242.7,965.5) scale(0.809,1)" text-anchor="middle" class="tl">100</text>
<text transform="translate(139.70,477.84) rotate(-90) scale(1.0235,1)" fill="#ff0000" class="lab"><tspan>(110) Al</tspan><tspan font-size="13.5" dy="6.8">2</tspan><tspan dy="-6.8">Cu</tspan></text><text transform="translate(139.70,361.62) rotate(-90) scale(1.0167,1)" fill="#0000ff" class="lab"><tspan>(002) Al</tspan><tspan font-size="13.5" dy="6.8">3</tspan><tspan dy="-6.8">Ti</tspan></text><text transform="translate(171.40,490.93) rotate(-90) scale(1.0186,1)" fill="#800000" class="lab"><tspan>(111)AlMn</tspan><tspan font-size="13.5" dy="6.8">8.4</tspan></text><text transform="translate(254.90,494.24) rotate(-90) scale(1.0282,1)" fill="#ff0000" class="lab"><tspan>(200) Al</tspan><tspan font-size="13.5" dy="6.8">2</tspan><tspan dy="-6.8">Cu</tspan></text><text transform="translate(365.30,490.70) rotate(-90) scale(1.0031,1)" fill="#ff0000" class="lab"><tspan>(211)Al</tspan><tspan font-size="13.5" dy="6.8">2</tspan><tspan dy="-6.8">Cu</tspan></text><text transform="translate(428.00,485.54) rotate(-90) scale(1.0250,1)" fill="#0000ff" class="lab"><tspan>(004) Al</tspan><tspan font-size="13.5" dy="6.8">3</tspan><tspan dy="-6.8">Ti</tspan></text><text transform="translate(451.00,479.22) rotate(-90) scale(1.0163,1)" fill="#ff0000" class="lab"><tspan>(112)Al</tspan><tspan font-size="13.5" dy="6.8">2</tspan><tspan dy="-6.8">Cu</tspan></text><text transform="translate(503.00,489.25) rotate(-90) scale(1.0312,1)" fill="#0000ff" class="lab"><tspan>(200) Al</tspan><tspan font-size="13.5" dy="6.8">3</tspan><tspan dy="-6.8">Ti</tspan></text><text transform="translate(521.10,484.22) rotate(-90) scale(1.0121,1)" fill="#ff0000" class="lab"><tspan>(310)Al</tspan><tspan font-size="13.5" dy="6.8">2</tspan><tspan dy="-6.8">Cu</tspan></text><text transform="translate(383.30,111.33) rotate(-90) scale(1.0176,1)" fill="#000000" class="lab"><tspan>(111)Al</tspan><tspan font-size="13.5" dy="6.8">FCC</tspan></text><text transform="translate(470.50,349.51) rotate(-90) scale(1.0054,1)" fill="#000000" class="lab"><tspan>(211)Al</tspan><tspan font-size="13.5" dy="6.8">FCC</tspan></text><text transform="translate(760.00,276.68) rotate(-90) scale(0.9892,1)" fill="#000000" class="lab"><tspan>(200)Al</tspan><tspan font-size="13.5" dy="6.8">FCC</tspan></text><text transform="translate(945.10,377.18) rotate(-90) scale(0.9882,1)" fill="#000000" class="lab"><tspan>(220)Al</tspan><tspan font-size="13.5" dy="6.8">FCC</tspan></text><text transform="translate(1003.20,426.70) rotate(-90) scale(1.0000,1)" fill="#000000" class="lab"><tspan>(311)Al</tspan><tspan font-size="13.5" dy="6.8">FCC</tspan></text><text transform="translate(1229.30,469.97) rotate(-90) scale(0.9817,1)" fill="#000000" class="lab"><tspan>(222)Al</tspan><tspan font-size="13.5" dy="6.8">FCC</tspan></text><text transform="translate(1229.00,366.52) rotate(-90) scale(1.0136,1)" fill="#ff0000" class="lab"><tspan>(600) Al</tspan><tspan font-size="13.5" dy="6.8">2</tspan><tspan dy="-6.8">Cu</tspan></text>
<text class="ser" transform="translate(47.9,644.5) rotate(-90) scale(0.958,1)" font-size="71">Intensity</text>
<text class="ser" transform="translate(634.0,1033) scale(0.858,1)" font-size="56.5">2<tspan font-style="italic">θ</tspan>(°)</text>
<text class="ser" transform="translate(1105,586.6) scale(0.86,1)" font-size="38.7" fill="#ff0000">Al<tspan dy="17">2</tspan><tspan dy="-17">Cu(</tspan><tspan font-style="italic">θ</tspan>)</text>
<text class="ser" transform="translate(1133,680.7) scale(0.875,1)" font-size="39.5" fill="#0000ff">Al<tspan dy="16">3</tspan><tspan dy="-16">Ti</tspan></text>
<text class="ser" transform="translate(1069.6,781) scale(0.85,1)" font-size="39.5" fill="#7a0a0a">Al<tspan font-size="23.7" dy="13.6">20</tspan><tspan dy="-13.6">Cu</tspan><tspan font-size="23.7" dy="13.6">4</tspan><tspan dy="-13.6">Mn</tspan><tspan font-size="23.7" dy="13.6">9</tspan></text>
<text class="ser" transform="translate(1150,865.6) scale(0.85,1)" font-size="39.5" fill="#000">Al<tspan font-size="23.6" dy="13.4">Fcc</tspan></text>
</svg>
</body></html>
